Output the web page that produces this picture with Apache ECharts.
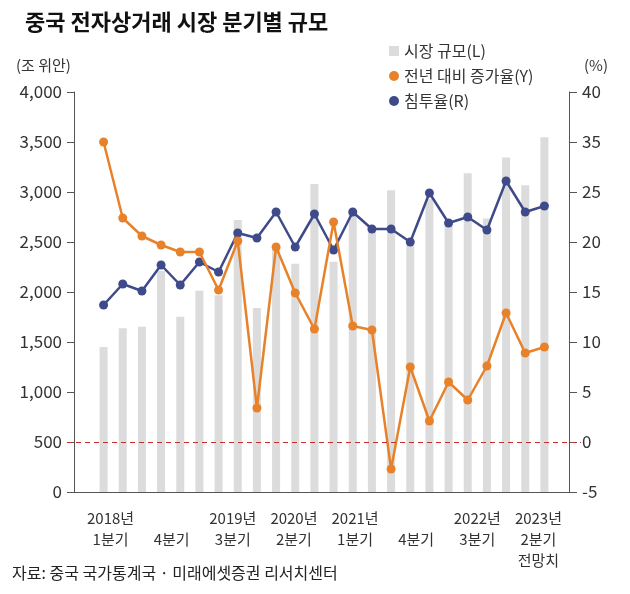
<!DOCTYPE html>
<html><head><meta charset="utf-8">
<script src="https://cdn.jsdelivr.net/npm/echarts@6/dist/echarts.min.js"></script>
<style>html,body{margin:0;padding:0;background:#fff;}#c{width:630px;height:594px;}</style>
</head><body><div id="c"></div>
<script>
const quarters = ['2018Q1','2018Q2','2018Q3','2018Q4','2019Q1','2019Q2','2019Q3','2019Q4',
  '2020Q1','2020Q2','2020Q3','2020Q4','2021Q1','2021Q2','2021Q3','2021Q4',
  '2022Q1','2022Q2','2022Q3','2022Q4','2023Q1','2023Q2','2023Q3','2023Q4'];
const marketSize = [1450,1637,1653,2210,1753,2013,1967,2720,1840,2430,2283,3080,
  2303,2800,2650,3017,2470,2930,2703,3187,2735,3345,3068,3547];
const yoyGrowth = [30,22.4,20.6,19.7,19.0,19.0,15.2,20.1,3.4,19.5,14.9,11.3,
  22.0,11.6,11.2,-2.7,7.5,2.1,6.0,4.2,7.6,12.9,8.9,9.5];
const penetration = [13.7,15.8,15.1,17.7,15.7,18.0,17.0,20.9,20.4,23.0,19.5,22.8,
  19.2,23.0,21.3,21.3,20.0,24.9,21.9,22.5,21.2,26.1,23.0,23.6];
const xTickLabels = ['2018년\n1분기','\n4분기','2019년\n3분기','2020년\n2분기','2021년\n1분기','\n4분기','2022년\n3분기','2023년\n2분기\n전망치'];
const rightTickLabels = ['-5','0','5','10','15','20','25','35','40'];
const seriesNames = ['시장 규모(L)','전년 대비 증가율(Y)','침투율(R)'];

const FONT = 'Noto Sans CJK KR';
const chart = echarts.init(document.getElementById('c'), null, {renderer:'canvas'});
const axisColor = '#555';
chart.setOption({
  animation:false,
  backgroundColor:'#fff',
  textStyle:{fontFamily:FONT},
  title:[
    {text:'중국 전자상거래 시장 분기별 규모', left:20, top:6, textStyle:{fontFamily:FONT,fontSize:22,fontWeight:'bold',color:'#111'}},
    {text:'(조 위안)', left:11, top:53, textStyle:{fontFamily:FONT,fontSize:15,fontWeight:'normal',color:'#333'}},
    {text:'(%)', left:579, top:53, textStyle:{fontFamily:FONT,fontSize:15,fontWeight:'normal',color:'#333'}},
    {text:'자료: 중국 국가통계국 · 미래에셋증권 리서치센터', left:7, top:560, textStyle:{fontFamily:FONT,fontSize:16,fontWeight:'normal',color:'#222'}}
  ],
  legend:{
    orient:'vertical', left:384, top:38, itemWidth:10, itemHeight:10, itemGap:9,
    textStyle:{fontFamily:FONT,fontSize:16,color:'#333'},
    data:[{name:seriesNames[0],icon:'rect'},{name:seriesNames[1],icon:'circle'},{name:seriesNames[2],icon:'circle'}]
  },
  grid:[
    {left:74, right:61, top:92, bottom:102},
    {left:94, right:76, top:92, bottom:102},
    {left:80, right:61, top:92, bottom:102},
    {left:67, right:49, top:92, bottom:102}
  ],
  xAxis:[
    {gridIndex:0, type:'value', min:0, max:1, axisLine:{show:true,onZero:false,lineStyle:{color:axisColor,width:1}}, axisTick:{show:false}, axisLabel:{show:false}, splitLine:{show:false}},
    {gridIndex:1, type:'category', data:quarters, show:false},
    {gridIndex:2, type:'category', data:xTickLabels, axisLine:{show:false}, axisTick:{show:false}, splitLine:{show:false},
      axisLabel:{interval:0, margin:16, fontFamily:FONT, fontSize:15, color:'#333', lineHeight:21, verticalAlign:'top'}},
    {gridIndex:3, type:'value', min:0, max:1, show:false}
  ],
  yAxis:[
    {gridIndex:0, type:'value', position:'left', min:0, max:4000, interval:500,
      axisLine:{show:true,lineStyle:{color:axisColor,width:1}}, axisTick:{show:true,inside:false,length:7,lineStyle:{color:axisColor}},
      splitLine:{show:false},
      axisLabel:{margin:12, fontFamily:FONT, fontSize:17, color:'#333', formatter:v=>v.toLocaleString('en-US')}},
    {gridIndex:0, type:'value', position:'right', min:-5, max:35, interval:5,
      axisLine:{show:true,lineStyle:{color:axisColor,width:1}}, axisTick:{show:true,inside:false,length:8,lineStyle:{color:axisColor}},
      splitLine:{show:false},
      axisLabel:{margin:13, fontFamily:FONT, fontSize:17, color:'#333', formatter:v=>rightTickLabels[Math.round((v+5)/5)]}},
    {gridIndex:1, type:'value', min:0, max:4000, show:false, splitLine:{show:false}},
    {gridIndex:1, type:'value', min:-5, max:35, show:false, splitLine:{show:false}},
    {gridIndex:3, type:'value', min:-5, max:35, show:false, splitLine:{show:false}},
    {gridIndex:2, type:'value', min:0, max:1, show:false, splitLine:{show:false}}
  ],
  series:[
    {name:seriesNames[0], type:'bar', xAxisIndex:1, yAxisIndex:2, data:marketSize, barWidth:8,
      itemStyle:{color:'#dcdcdc'}, z:1},
    {name:'zero', type:'line', xAxisIndex:3, yAxisIndex:4, data:[], z:2, symbol:'none',
      markLine:{silent:true, symbol:'none', label:{show:false},
        lineStyle:{type:[5,4], color:'#c62d2d', width:1.2}, data:[{yAxis:0}]}},
    {name:seriesNames[2], type:'line', xAxisIndex:1, yAxisIndex:3, data:penetration, z:3,
      symbol:'circle', symbolSize:9, lineStyle:{width:2.5,color:'#3f4a8a'}, itemStyle:{color:'#3f4a8a'}},
    {name:seriesNames[1], type:'line', xAxisIndex:1, yAxisIndex:3, data:yoyGrowth, z:4,
      symbol:'circle', symbolSize:9, lineStyle:{width:2.5,color:'#e8822a'}, itemStyle:{color:'#e8822a'}}
  ]
});
</script></body></html>
